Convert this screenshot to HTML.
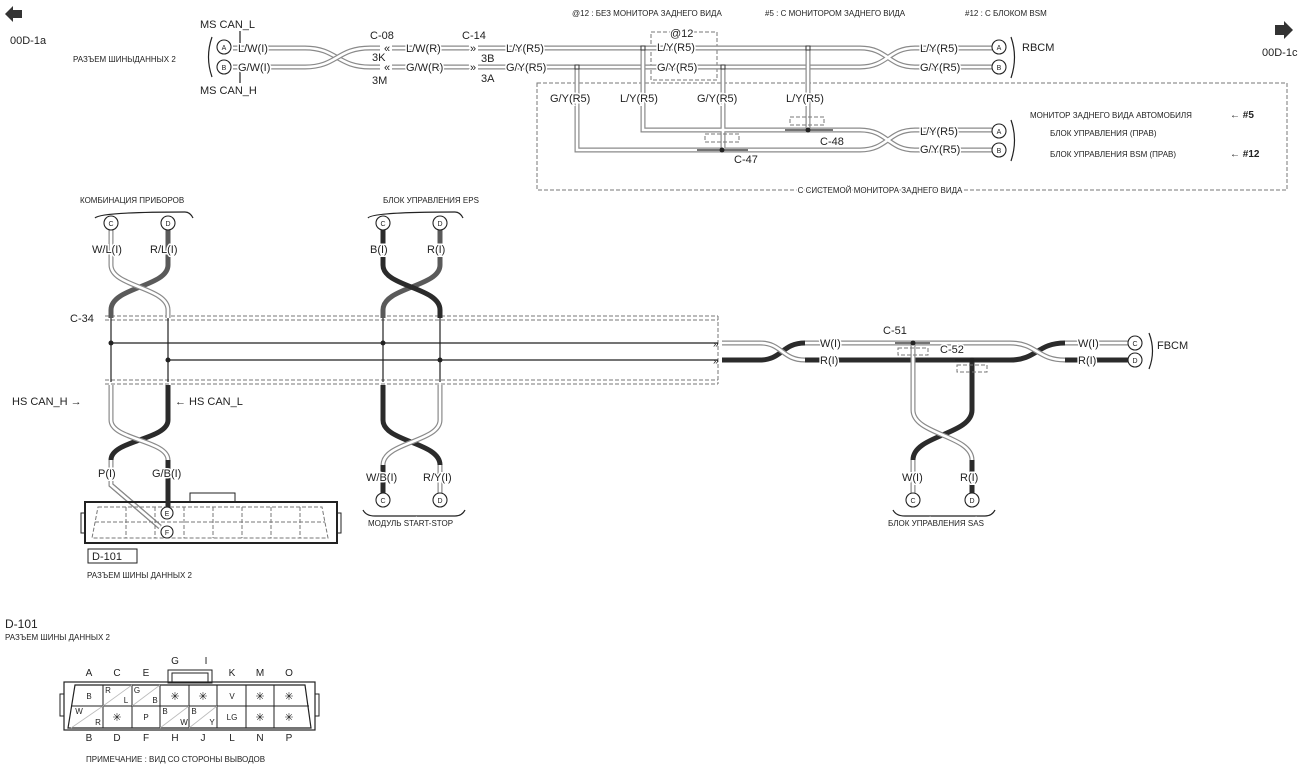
<!DOCTYPE html>
<html><head><meta charset="utf-8">
<style>
html,body{margin:0;padding:0;background:#fff;}
svg{display:block;}
text{font-family:"Liberation Sans",sans-serif;fill:#222;}
.t{font-size:11px;paint-order:stroke;stroke:#fff;stroke-width:3px;}
.s{font-size:8px;font-family:"Liberation Sans Narrow","Liberation Sans",sans-serif;paint-order:stroke;stroke:#fff;stroke-width:3px;}
.lo{fill:none;stroke:#8a8a8a;stroke-width:5;}
.li{fill:none;stroke:#fff;stroke-width:2.6;}
.dk{fill:none;stroke:#2b2b2b;stroke-width:5;}
.md{fill:none;stroke:#5a5a5a;stroke-width:5;}
.thin{fill:none;stroke:#222;stroke-width:1.2;}
.dash{fill:none;stroke:#777;stroke-width:1;stroke-dasharray:4 2;}
.c{fill:#fff;stroke:#222;stroke-width:1.1;}
.ct{font-size:7px;text-anchor:middle;}
</style></head><body>
<svg width="1300" height="769" viewBox="0 0 1300 769" xmlns="http://www.w3.org/2000/svg">
<defs>
<path id="w1" d="M233 48 H305 C337 48 337 67 370 67 H380"/>
<path id="w2" d="M233 67 H305 C337 67 337 48 370 48 H380"/>
<path id="w3" d="M392 48 H470 M392 67 H470 M478 48 H860 C888 48 888 67 915 67 H992 M478 67 H860 C888 67 888 48 915 48 H992"/>
<path id="w4" d="M643 48 V130 H860 C888 130 888 150 915 150 H992 M577 67 V150 H860 C888 150 888 130 915 130 H992 M723 67 V150 M808 48 V130"/>
<path id="w5" d="M111 230 V265 C111 287 168 287 168 310 V318"/>
<path id="w6" d="M111 385 V420 C111 440 168 440 168 460"/>
<path id="w7" d="M168 420 C168 440 111 440 111 460 V485 L160 527"/>
<path id="w8" d="M440 385 V420 C440 442 383 442 383 465"/>
<path id="w9" d="M722 343 H760 C782 343 782 360 805 360 M805 343 H1010 C1037 343 1037 360 1065 360 M1065 343 H1128"/>
<path id="w10" d="M913 343 V410 C913 435 972 435 972 460"/>
</defs>

<polygon points="5,14 13,6 13,10 22,10 22,18 13,18 13,22" fill="#333"/>
<text x="10" y="44" style="font-size:11px">00D-1a</text>
<polygon points="1293,30 1284,21 1284,25 1275,25 1275,35 1284,35 1284,39" fill="#333"/>
<text x="1262" y="56" style="font-size:11px">00D-1c</text>

<text x="572" y="16" class="s">@12 : БЕЗ МОНИТОРА ЗАДНЕГО ВИДА</text>
<text x="765" y="16" class="s">#5 : С МОНИТОРОМ ЗАДНЕГО ВИДА</text>
<text x="965" y="16" class="s">#12 : С БЛОКОМ BSM</text>

<rect x="537" y="83" width="750" height="107" class="dash"/>
<rect x="651" y="32" width="66" height="48" class="dash"/>

<use href="#w1" class="lo"/><use href="#w1" class="li"/>
<use href="#w2" class="lo"/><use href="#w2" class="li"/>
<use href="#w3" class="lo"/><use href="#w3" class="li"/>
<use href="#w4" class="lo"/><use href="#w4" class="li"/>
<rect x="575" y="65" width="4" height="4" fill="#fff" stroke="#333"/>
<rect x="641" y="46" width="4" height="4" fill="#fff" stroke="#333"/>
<rect x="721" y="65" width="4" height="4" fill="#fff" stroke="#333"/>
<rect x="806" y="46" width="4" height="4" fill="#fff" stroke="#333"/>

<text x="200" y="28" style="font-size:11px">MS CAN_L</text>
<line x1="240" y1="31" x2="240" y2="44" class="thin"/>
<text x="200" y="94" style="font-size:11px">MS CAN_H</text>
<line x1="240" y1="71" x2="240" y2="83" class="thin"/>
<text x="73" y="62" class="s">РАЗЪЕМ ШИНЫДАННЫХ 2</text>
<path d="M212 37 Q205 57 212 77" class="thin"/>
<circle cx="224" cy="47" r="7" class="c"/><text x="224" y="50" class="ct">A</text>
<circle cx="224" cy="67" r="7" class="c"/><text x="224" y="70" class="ct">B</text>
<text x="238" y="52" class="t">L/W(I)</text>
<text x="238" y="71" class="t">G/W(I)</text>
<text x="370" y="39" style="font-size:11px">C-08</text>
<text x="372" y="61" class="t">3K</text>
<text x="372" y="84" style="font-size:11px">3M</text>
<text x="384" y="52" class="t">«</text><text x="384" y="71" class="t">«</text>
<text x="406" y="52" class="t">L/W(R)</text>
<text x="406" y="71" class="t">G/W(R)</text>
<text x="462" y="39" style="font-size:11px">C-14</text>
<text x="470" y="52" class="t">»</text><text x="470" y="71" class="t">»</text>
<text x="481" y="62" class="t">3B</text>
<text x="481" y="82" style="font-size:11px">3A</text>
<text x="506" y="52" class="t">L/Y(R5)</text>
<text x="506" y="71" class="t">G/Y(R5)</text>
<text x="670" y="37" class="t">@12</text>
<text x="657" y="51" class="t">L/Y(R5)</text>
<text x="657" y="71" class="t">G/Y(R5)</text>
<text x="550" y="102" class="t">G/Y(R5)</text>
<text x="620" y="102" class="t">L/Y(R5)</text>
<text x="697" y="102" class="t">G/Y(R5)</text>
<text x="786" y="102" class="t">L/Y(R5)</text>
<line x1="697" y1="150" x2="748" y2="150" class="thin"/><circle cx="722" cy="150" r="2.5" fill="#222"/>
<rect x="705" y="134" width="34" height="8" class="dash"/>
<text x="734" y="163" style="font-size:11px">C-47</text>
<line x1="785" y1="130" x2="833" y2="130" class="thin"/><circle cx="808" cy="130" r="2.5" fill="#222"/>
<rect x="790" y="117" width="34" height="8" class="dash"/>
<text x="820" y="145" style="font-size:11px">C-48</text>
<text x="920" y="52" class="t">L/Y(R5)</text>
<text x="920" y="71" class="t">G/Y(R5)</text>
<circle cx="999" cy="47" r="7" class="c"/><text x="999" y="50" class="ct">A</text>
<circle cx="999" cy="67" r="7" class="c"/><text x="999" y="70" class="ct">B</text>
<path d="M1011 37 Q1018 57 1011 78" class="thin"/>
<text x="1022" y="51" style="font-size:11px">RBCM</text>
<text x="920" y="135" class="t">L/Y(R5)</text>
<text x="920" y="153" class="t">G/Y(R5)</text>
<circle cx="999" cy="131" r="7" class="c"/><text x="999" y="134" class="ct">A</text>
<circle cx="999" cy="150" r="7" class="c"/><text x="999" y="153" class="ct">B</text>
<path d="M1011 120 Q1018 140 1011 161" class="thin"/>
<text x="1030" y="118" class="s">МОНИТОР ЗАДНЕГО ВИДА АВТОМОБИЛЯ</text>
<text x="1230" y="118" style="font-size:10px;font-weight:bold">← #5</text>
<text x="1050" y="136" class="s">БЛОК УПРАВЛЕНИЯ (ПРАВ)</text>
<text x="1050" y="157" class="s">БЛОК УПРАВЛЕНИЯ BSM (ПРАВ)</text>
<text x="1230" y="157" style="font-size:10px;font-weight:bold">← #12</text>
<text x="880" y="193" class="s" text-anchor="middle">С СИСТЕМОЙ МОНИТОРА ЗАДНЕГО ВИДА</text>

<path d="M105 316 H718 M105 320 H718 M105 380 H718 M105 384 H718 M718 316 V384" class="dash"/>
<line x1="111" y1="318" x2="111" y2="382" class="thin"/>
<line x1="168" y1="318" x2="168" y2="382" class="thin"/>
<line x1="383" y1="318" x2="383" y2="382" class="thin"/>
<line x1="440" y1="318" x2="440" y2="382" class="thin"/>
<line x1="111" y1="343" x2="718" y2="343" class="thin"/>
<line x1="168" y1="360" x2="718" y2="360" class="thin"/>
<circle cx="111" cy="343" r="2.5" fill="#222"/><circle cx="168" cy="360" r="2.5" fill="#222"/>
<circle cx="383" cy="343" r="2.5" fill="#222"/><circle cx="440" cy="360" r="2.5" fill="#222"/>
<text x="70" y="322" style="font-size:11px">C-34</text>

<text x="80" y="203" class="s">КОМБИНАЦИЯ ПРИБОРОВ</text>
<path d="M95 218 Q100 212 185 212 Q190 212 193 218" class="thin"/>
<path d="M168 230 V265 C168 287 111 287 111 310 V318" class="md"/>
<use href="#w5" class="lo"/><use href="#w5" class="li"/>
<circle cx="111" cy="223" r="7" class="c"/><text x="111" y="226" class="ct">C</text>
<circle cx="168" cy="223" r="7" class="c"/><text x="168" y="226" class="ct">D</text>
<text x="92" y="253" class="t">W/L(I)</text>
<text x="150" y="253" class="t">R/L(I)</text>
<use href="#w7" class="dk"/>
<path d="M168 385 V420" class="dk"/>
<path d="M168 460 V513" class="dk"/>
<use href="#w6" class="lo"/><use href="#w6" class="li"/>
<path d="M111 460 V485 L160 527" class="lo"/><path d="M111 460 V485 L160 527" class="li"/>
<text x="12" y="405" style="font-size:11px">HS CAN_H →</text>
<text x="175" y="405" style="font-size:11px">← HS CAN_L</text>
<text x="98" y="477" class="t">P(I)</text>
<text x="152" y="477" class="t">G/B(I)</text>
<rect x="190" y="493" width="45" height="9" fill="#fff" stroke="#222"/>
<rect x="85" y="502" width="252" height="41" fill="none" stroke="#222" stroke-width="2"/>
<rect x="81" y="513" width="4" height="20" fill="none" stroke="#222"/>
<rect x="337" y="513" width="4" height="20" fill="none" stroke="#222"/>
<path d="M98 507 H322 L328 538 H92 Z M95 522 H325 M126 507 V538 M155 507 V538 M184 507 V538 M213 507 V538 M242 507 V538 M271 507 V538 M300 507 V538" class="dash" stroke="#555"/>
<path d="M168 485 V505" class="dk"/>
<circle cx="167" cy="513" r="6" class="c"/><text x="167" y="516" class="ct">E</text>
<circle cx="167" cy="532" r="6" class="c"/><text x="167" y="535" class="ct">F</text>
<rect x="88" y="549" width="49" height="14" fill="none" stroke="#222"/>
<text x="92" y="560" style="font-size:11px">D-101</text>
<text x="87" y="578" class="s">РАЗЪЕМ ШИНЫ ДАННЫХ 2</text>

<text x="383" y="203" class="s">БЛОК УПРАВЛЕНИЯ EPS</text>
<path d="M368 218 Q372 212 455 212 Q460 212 463 218" class="thin"/>
<path d="M440 230 V265 C440 287 383 287 383 310 V318" class="md"/>
<path d="M383 230 V265 C383 287 440 287 440 310 V318" class="dk"/>
<circle cx="383" cy="223" r="7" class="c"/><text x="383" y="226" class="ct">C</text>
<circle cx="440" cy="223" r="7" class="c"/><text x="440" y="226" class="ct">D</text>
<text x="370" y="253" class="t">B(I)</text>
<text x="427" y="253" class="t">R(I)</text>
<path d="M383 385 V420 C383 442 440 442 440 465" class="dk"/>
<use href="#w8" class="lo"/><use href="#w8" class="li"/>
<path d="M440 385 V420" class="lo"/><path d="M440 385 V420" class="li"/>
<path d="M383 465 V493" class="dk"/>
<path d="M440 465 V493" class="lo"/><path d="M440 465 V493" class="li"/>
<text x="366" y="481" class="t">W/B(I)</text>
<text x="423" y="481" class="t">R/Y(I)</text>
<circle cx="383" cy="500" r="7" class="c"/><text x="383" y="503" class="ct">C</text>
<circle cx="440" cy="500" r="7" class="c"/><text x="440" y="503" class="ct">D</text>
<path d="M363 510 Q366 516 375 516 H455 Q462 516 465 510" class="thin"/>
<text x="368" y="526" class="s">МОДУЛЬ START-STOP</text>

<path d="M722 360 H760 C782 360 782 343 805 343 M805 360 H1010 C1037 360 1037 343 1065 343 M1065 360 H1128" class="dk"/>
<use href="#w9" class="lo"/><use href="#w9" class="li"/>
<text x="713" y="347" style="font-size:10px">»</text><text x="713" y="364" style="font-size:10px">»</text>
<text x="820" y="347" class="t">W(I)</text>
<text x="820" y="364" class="t">R(I)</text>
<path d="M972 360 V410 C972 435 913 435 913 460" class="dk"/>
<path d="M972 460 V493" class="dk"/>
<use href="#w10" class="lo"/><use href="#w10" class="li"/>
<path d="M913 460 V493" class="lo"/><path d="M913 460 V493" class="li"/>
<line x1="895" y1="343" x2="930" y2="343" class="thin"/><circle cx="913" cy="343" r="2.5" fill="#222"/>
<rect x="898" y="348" width="30" height="7" class="dash"/>
<text x="883" y="334" style="font-size:11px">C-51</text>
<line x1="955" y1="360" x2="990" y2="360" class="thin"/><circle cx="972" cy="360" r="2.5" fill="#222"/>
<rect x="957" y="365" width="30" height="7" class="dash"/>
<text x="940" y="353" class="t">C-52</text>
<text x="1078" y="347" class="t">W(I)</text>
<text x="1078" y="364" class="t">R(I)</text>
<circle cx="1135" cy="343" r="7" class="c"/><text x="1135" y="346" class="ct">C</text>
<circle cx="1135" cy="360" r="7" class="c"/><text x="1135" y="363" class="ct">D</text>
<path d="M1149 333 Q1156 351 1149 369" class="thin"/>
<text x="1157" y="349" style="font-size:11px">FBCM</text>
<text x="902" y="481" class="t">W(I)</text>
<text x="960" y="481" class="t">R(I)</text>
<circle cx="913" cy="500" r="7" class="c"/><text x="913" y="503" class="ct">C</text>
<circle cx="972" cy="500" r="7" class="c"/><text x="972" y="503" class="ct">D</text>
<path d="M893 510 Q896 516 905 516 H985 Q992 516 995 510" class="thin"/>
<text x="888" y="526" class="s">БЛОК УПРАВЛЕНИЯ SAS</text>

<!-- bottom D-101 -->
<text x="5" y="628" style="font-size:12px">D-101</text>
<text x="5" y="640" class="s">РАЗЪЕМ ШИНЫ ДАННЫХ 2</text>
<g style="font-size:10px" text-anchor="middle">
<text x="89" y="676">A</text><text x="117" y="676">C</text><text x="146" y="676">E</text>
<text x="175" y="664">G</text><text x="206" y="664">I</text>
<text x="232" y="676">K</text><text x="260" y="676">M</text><text x="289" y="676">O</text>
<text x="89" y="741">B</text><text x="117" y="741">D</text><text x="146" y="741">F</text><text x="175" y="741">H</text>
<text x="203" y="741">J</text><text x="232" y="741">L</text><text x="260" y="741">N</text><text x="289" y="741">P</text>
</g>
<rect x="168" y="670" width="44" height="13" fill="none" stroke="#222"/>
<rect x="172" y="673" width="36" height="10" fill="none" stroke="#222"/>
<rect x="64" y="682" width="251" height="48" fill="none" stroke="#222" stroke-width="1.2"/>
<rect x="60" y="694" width="4" height="22" fill="none" stroke="#222"/>
<rect x="315" y="694" width="4" height="22" fill="none" stroke="#222"/>
<path d="M75 685 H305 L311 728 H68 Z" fill="none" stroke="#222" stroke-width="1.2"/>
<path d="M71 706 H309 M103 685 V728 M132 685 V728 M160 685 V728 M189 685 V728 M217 685 V728 M246 685 V728 M274 685 V728" stroke="#222" stroke-width="1" fill="none"/>
<path d="M103 706 L132 685 M132 706 L160 685 M71 728 L103 706 M160 728 L189 706 M189 728 L217 706" stroke="#bbb" stroke-width="0.8"/>
<g style="font-size:8px" text-anchor="middle">
<text x="89" y="699">B</text>
<text x="108" y="693">R</text><text x="126" y="703">L</text>
<text x="137" y="693">G</text><text x="155" y="703">B</text>
<text x="175" y="700" style="font-size:11px">✳</text><text x="203" y="700" style="font-size:11px">✳</text>
<text x="232" y="699">V</text>
<text x="260" y="700" style="font-size:11px">✳</text><text x="289" y="700" style="font-size:11px">✳</text>
<text x="79" y="714">W</text><text x="98" y="725">R</text>
<text x="117" y="721" style="font-size:11px">✳</text>
<text x="146" y="720">P</text>
<text x="165" y="714">B</text><text x="184" y="725">W</text>
<text x="194" y="714">B</text><text x="212" y="725">Y</text>
<text x="232" y="720">LG</text>
<text x="260" y="721" style="font-size:11px">✳</text><text x="289" y="721" style="font-size:11px">✳</text>
</g>
<text x="86" y="762" class="s">ПРИМЕЧАНИЕ : ВИД СО СТОРОНЫ ВЫВОДОВ</text>
</svg>
</body></html>
